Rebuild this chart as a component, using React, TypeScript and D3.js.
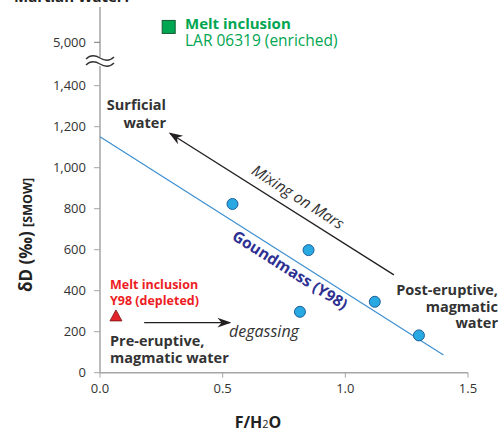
import React from "react";
import * as d3 from "d3";

const xTicks = [0, 0.5, 1.0, 1.5];
const yTicks = [0, 200, 400, 600, 800, 1000, 1200, 1400];
const yTopTicks = [5000];

// groundmass (Y98) points
const gmX = [0.54, 0.85, 0.815, 1.12, 1.30];
const gmY = [823, 598, 297, 346, 182];

// melt inclusions
const depletedX = [0.065];
const depletedY = [277];
const enrichedX = [0.28];
const enrichedY = [5075];

// regression line (groundmass)
const fitX = [0, 1.4];
const fitY = [1151, 86];

// mixing arrow
const mixX = [1.198, 0.285];
const mixY = [477, 1168];

// degassing arrow
const degX = [0.18, 0.53];
const degY = [244, 244];

const W = 504;
const H = 432;
const FONT = "'Open Sans', 'Noto Sans', sans-serif";

export default function App() {
  const x = d3.scaleLinear().domain([0, 1.5]).range([100, 468]);
  const y = d3.scaleLinear().domain([0, 1400]).range([372.7, 85.7]);
  const yTop = d3.scaleLinear().domain([5000, 5100]).range([42.3, 21.8]);
  const axisCol = "#a6a6a6";
  const tickCol = "#333";
  const line = d3.line<number>().x((d, i) => x(fitX[i])).y((d, i) => y(fitY[i]));

  const angle = (Math.atan2(y(fitY[1]) - y(fitY[0]), x(fitX[1]) - x(fitX[0])) * 180) / Math.PI;

  const wave = (cy: number) => {
    const x0 = 86, x1 = 114;
    const p = d3.path();
    p.moveTo(x0, cy + 1);
    p.bezierCurveTo(x0 + 4, cy - 3, x0 + 9, cy - 3, x0 + 14, cy);
    p.bezierCurveTo(x0 + 19, cy + 3, x0 + 24, cy + 3, x1, cy - 1);
    return p.toString();
  };

  const lab = "#333";

  return (
    <svg width={W} height={H} style={{ position: "absolute", left: 0, top: 0, background: "#fff" }} fontFamily={FONT}>
      <defs>
        <marker id="ah2" viewBox="0 0 10 10" refX="9" refY="5" markerWidth="14" markerHeight="14" orient="auto" markerUnits="userSpaceOnUse">
          <path d="M0,1.5 L10,5 L0,8.5 L3,5 Z" fill="#231f20" />
        </marker>
      </defs>
      {/* cropped title */}
      <text x={14} y={2} fontSize={15} fontWeight="bold" fill="#222">Martian Water?</text>

      {/* axes */}
      <line x1={100} x2={100} y1={7} y2={57} stroke="#777" strokeWidth={1} />
      <line x1={100} x2={100} y1={66} y2={y(0)} stroke={axisCol} strokeWidth={1.5} />
      <line x1={100} x2={x(1.5)} y1={y(0)} y2={y(0)} stroke={axisCol} strokeWidth={1.5} />
      <path d={wave(58)} fill="none" stroke="#333" strokeWidth={1.3} />
      <path d={wave(64)} fill="none" stroke="#333" strokeWidth={1.3} />
      {yTicks.map((t) => (
        <g key={t}>
          <line x1={94} x2={100} y1={y(t)} y2={y(t)} stroke={axisCol} />
          <text x={86} y={y(t)} dy="0.36em" textAnchor="end" fontSize={13} fill={tickCol}>
            {d3.format(",")(t)}
          </text>
        </g>
      ))}
      {yTopTicks.map((t) => (
        <g key={t}>
          <line x1={94} x2={100} y1={yTop(t)} y2={yTop(t)} stroke="#777" />
          <text x={86} y={yTop(t)} dy="0.36em" textAnchor="end" fontSize={13} fill={tickCol}>
            {d3.format(",")(t)}
          </text>
        </g>
      ))}
      {xTicks.map((t) => (
        <g key={t}>
          <line x1={x(t)} x2={x(t)} y1={y(0)} y2={y(0) + 5} stroke={axisCol} />
          <text x={x(t)} y={393} textAnchor="middle" fontSize={13} fill={tickCol}>
            {d3.format(".1f")(t)}
          </text>
        </g>
      ))}
      <text x={258} y={428} textAnchor="middle" fontSize={16} fontWeight="bold" fill="#222">
        F/H<tspan fontSize={11} fontWeight="normal">2</tspan>O
      </text>
      <text transform="translate(32,235) rotate(-90)" textAnchor="middle" fill="#222">
        <tspan fontSize={17} fontWeight="bold">δD (‰) </tspan>
        <tspan fontSize={12.5} fontWeight="bold">[SMOW]</tspan>
      </text>

      {/* fit line */}
      <path d={line(fitX) || ""} fill="none" stroke="#3d8fd1" strokeWidth={1.2} />
      {/* mixing arrow */}
      <line x1={x(mixX[0])} y1={y(mixY[0])} x2={x(mixX[1])} y2={y(mixY[1])} stroke="#231f20" strokeWidth={1.3} markerEnd="url(#ah2)" />
      {/* degassing arrow */}
      <line x1={x(degX[0])} y1={y(degY[0])} x2={x(degX[1])} y2={y(degY[1])} stroke="#231f20" strokeWidth={1.3} markerEnd="url(#ah2)" />

      {/* points */}
      {gmX.map((v, i) => (
        <circle key={i} cx={x(v)} cy={y(gmY[i])} r={5.5} fill="#29a9e1" stroke="#1c5f9a" strokeWidth={1} />
      ))}
      {depletedX.map((v, i) => {
        const cx = x(v), cy = y(depletedY[i]);
        return <path key={i} d={`M${cx},${cy - 6} L${cx + 6},${cy + 5} L${cx - 6},${cy + 5} Z`} fill="#e3242b" stroke="#7a1010" strokeWidth={0.8} />;
      })}
      {enrichedX.map((v, i) => (
        <rect key={i} x={x(v) - 6.5} y={yTop(enrichedY[i]) - 6.5} width={13} height={13} fill="#00a651" stroke="#145a32" strokeWidth={1} />
      ))}

      {/* annotations */}
      <text x={185} y={29} fontSize={15} fontWeight="bold" fill="#00a651">Melt inclusion</text>
      <text x={185} y={46} fontSize={15.5} fill="#00a651">LAR 06319 (enriched)</text>

      <text x={166} y={110} textAnchor="end" fontSize={14.5} fontWeight="bold" fill={lab}>Surficial</text>
      <text x={166} y={128} textAnchor="end" fontSize={14.5} fontWeight="bold" fill={lab}>water</text>

      <text transform={`translate(298,197) rotate(${angle})`} textAnchor="middle" fontSize={15.5} fontStyle="italic" fill={lab} dy="0.35em">Mixing on Mars</text>
      <text transform={`translate(290,270) rotate(${angle})`} textAnchor="middle" fontSize={15.5} fontWeight="bold" fill="#2e3192" dy="0.35em">Goundmass (Y98)</text>

      <text x={498} y={295} textAnchor="end" fontSize={14.5} fontWeight="bold" fill={lab}>Post-eruptive,</text>
      <text x={498} y={311.5} textAnchor="end" fontSize={14.5} fontWeight="bold" fill={lab}>magmatic</text>
      <text x={498} y={328} textAnchor="end" fontSize={14.5} fontWeight="bold" fill={lab}>water</text>

      <text x={110} y={289} fontSize={12.5} fontWeight="bold" fill="#ed1c24">Melt inclusion</text>
      <text x={110} y={304.5} fontSize={12.5} fontWeight="bold" fill="#ed1c24">Y98 (depleted)</text>

      <text x={110} y={346} fontSize={14.5} fontWeight="bold" fill={lab}>Pre-eruptive,</text>
      <text x={110} y={363} fontSize={14.5} fontWeight="bold" fill={lab}>magmatic water</text>

      <text x={229} y={337} fontSize={16} fontStyle="italic" fill={lab}>degassing</text>
    </svg>
  );
}
